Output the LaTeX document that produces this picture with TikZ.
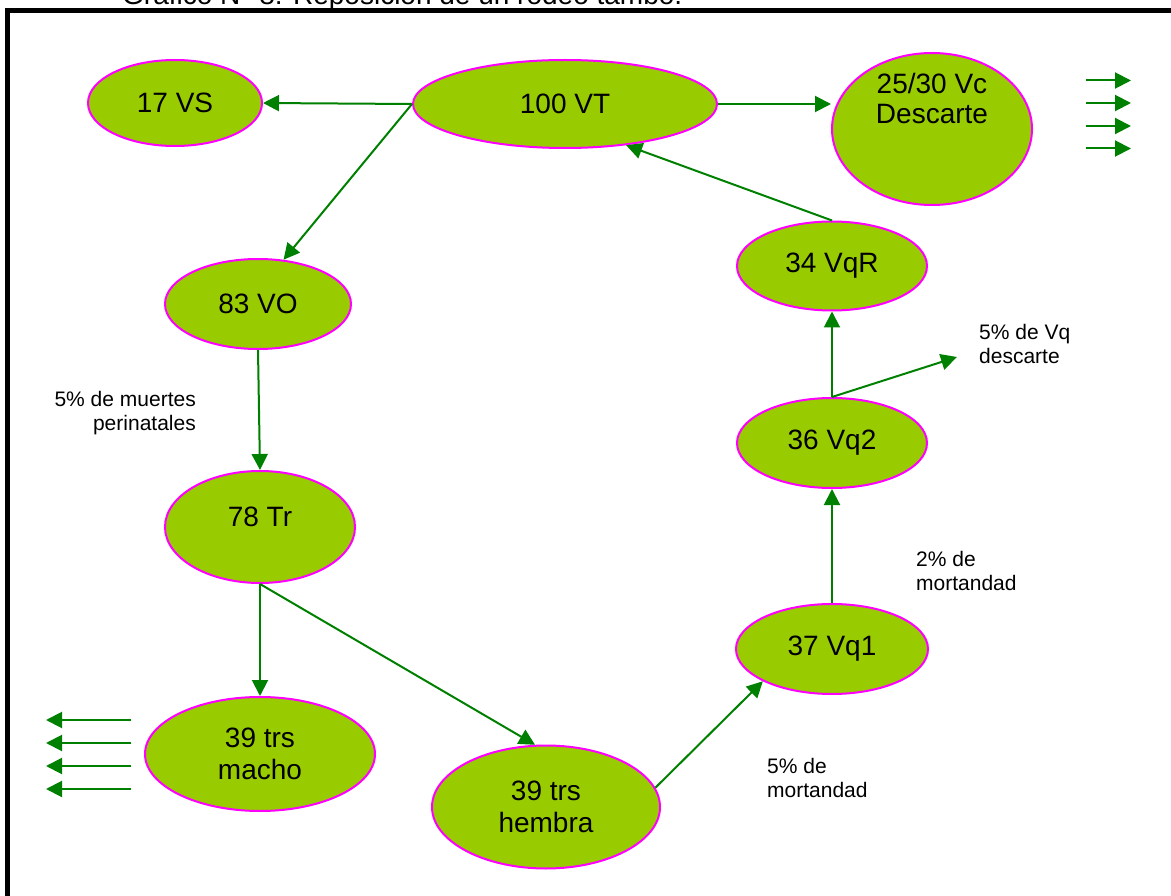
\documentclass[tikz,border=0pt]{standalone}
\usepackage{fontspec}
\setmainfont{Liberation Sans}
\usetikzlibrary{shapes.geometric,arrows.meta}

\definecolor{nodefill}{HTML}{99CC00}
\definecolor{nodeline}{HTML}{FF00FF}
\definecolor{flow}{HTML}{008000}

\tikzset{
  stock/.style={ellipse, draw=nodeline, line width=2pt, fill=nodefill,
    inner sep=0pt, align=center,
    font=\fontsize{28}{32}\selectfont},
  stocktext/.style={inner sep=0pt, align=center,
    font=\fontsize{28}{30}\selectfont},
  flowarrow/.style={draw=flow, line width=2pt,
    -{Triangle[length=16pt,width=16pt]}},
  note/.style={inner sep=0pt, font=\fontsize{21}{24}\selectfont},
}

\begin{document}
\begin{tikzpicture}[x=1pt,y=-1pt]
\useasboundingbox (0,0) rectangle (1171,896);

% heading, mostly hidden above the frame
\node[anchor=base west, inner sep=0pt, font=\fontsize{28}{32}\selectfont]
  (title) at (122,5) {Gráfico N° 8: Reposición de un rodeo tambo.};

% frame
\draw[line width=4.5pt] (7.5,905) -- (7.5,10.5) -- (1180,10.5);

% herd stocks
\node[stock, minimum width=174pt, minimum height=86pt]  (VS)  at (175,103) {17 VS};
\node[stock, minimum width=304pt, minimum height=88pt]  (VT)  at (565,104) {100 VT};
\node[stock, minimum width=200pt, minimum height=152pt] (Vc)  at (932,129) {};
\node[stocktext] (VcText) at (932,98) {25/30 Vc\\Descarte};
\node[stock, minimum width=186pt, minimum height=90pt]  (VO)  at (258,304) {83 VO};
\node[stock, minimum width=190pt, minimum height=89pt]  (VqR) at (832,266) {34 VqR};
\node[stock, minimum width=190pt, minimum height=90pt]  (Vq2) at (832,443) {36 Vq2};
\node[stock, minimum width=190pt, minimum height=112pt] (Tr)  at (260,527) {};
\node[stocktext] (TrText) at (260,517) {78 Tr};
\node[stock, minimum width=192pt, minimum height=90pt]  (Vq1) at (832,649) {37 Vq1};
\node[stock, minimum width=230pt, minimum height=114pt] (Tm)  at (260,754) {39 trs\\macho};
\node[stock, minimum width=228pt, minimum height=123pt] (Th)  at (546,807) {39 trs\\hembra};

% loss end point
\coordinate (loss) at (957,357);

% flows
\draw[flowarrow] (VT.west) -- (VS.east);
\draw[flowarrow] (VT.west) -- (VO.60);
\draw[flowarrow] (VT.east) -- (VT.east -| Vc.west);
\draw[flowarrow] (VqR.north) -- (VT.-34);
\draw[flowarrow] (VO.south) -- (Tr.north);
\draw[flowarrow] (Tr.south) -- (Tm.north);
\draw[flowarrow] (Tr.south) -- (Th.100);
\draw[flowarrow] (Th.10) -- (Vq1.205);
\draw[flowarrow] (Vq1.north) -- (Vq2.south);
\draw[flowarrow] (Vq2.north) -- (VqR.south);
\draw[flowarrow] (Vq2.north) -- (loss);

% outgoing animals
\foreach \yy in {80.5,103,126,148.5}
  \draw[flowarrow] (1086,\yy) -- (1131,\yy);
\foreach \yy in {720,743,766,789}
  \draw[flowarrow] (131,\yy) -- (46,\yy);

% rates (anchored on the baseline of the last line)
\node[note, anchor=base east, align=right] (n1) at (196,430) {5\% de muertes\\perinatales};
\node[note, anchor=base west, align=left]  (n2) at (979,363) {5\% de Vq\\descarte};
\node[note, anchor=base west, align=left]  (n3) at (916,590) {2\% de\\mortandad};
\node[note, anchor=base west, align=left]  (n4) at (767,797) {5\% de\\mortandad};
\end{tikzpicture}
\end{document}
